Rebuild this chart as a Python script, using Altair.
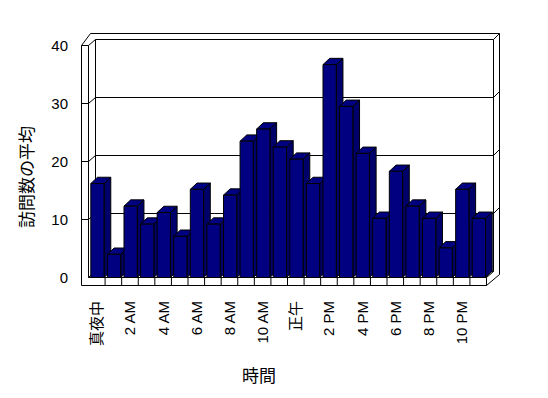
import json
import altair as alt
import pandas as pd

# ---------------- data ----------------
hours = list(range(24))
visits = [16.2, 4.0, 12.3, 9.2, 11.2, 7.1, 15.2, 9.2, 14.2, 23.5, 25.6, 22.5,
          20.4, 16.2, 36.7, 29.5, 21.4, 10.2, 18.3, 12.3, 10.2, 5.1, 15.2, 10.2]
tick_labels = ["真夜中", "2 AM", "4 AM", "6 AM", "8 AM", "10 AM",
               "正午", "2 PM", "4 PM", "6 PM", "8 PM", "10 PM"]
y_ticks = [0, 10, 20, 30, 40]
grid_values = [10, 20, 30]
x_title = "時間"
y_title = "訪問数の平均"

# ---------------- geometry (style) ----------------
W, H = 398, 232
XMAX, YMAX = 24, 40


def dx(px):
    return px * XMAX / W


def dy(px):
    return px * YMAX / H


TW = dx(7)              # wall thickness
FT = dy(8)              # floor thickness
BX, BY = dx(7), dy(6)   # box depth
OX, OY = dx(13), dy(12)  # outer back edge
BDX, BDY = dx(6.7), dy(6.3)  # bar depth
L_OFF, R_OFF = 0.14, 0.94

segs = []


def add(x1, y1, x2, y2):
    segs.append(dict(x=x1, y=y1, x2=x2, y2=y2))


# left wall
add(-TW, YMAX, -TW, -FT)
add(0, YMAX, 0, 0)
add(-TW, YMAX, 0, YMAX)
add(-TW, YMAX, dx(2), YMAX + OY)
add(dx(2), YMAX + OY, XMAX + OX, YMAX + OY)
add(0, YMAX, BX, YMAX + BY)
# back wall
add(BX, YMAX + BY, XMAX + BX, YMAX + BY)
add(BX, BY, XMAX + BX, BY)
add(BX, BY, BX, YMAX + BY)
add(XMAX + BX, BY, XMAX + BX, YMAX + BY)
add(XMAX + BX, YMAX + BY, XMAX + OX, YMAX + OY)
add(XMAX + OX, YMAX + OY, XMAX + OX, dy(3))
add(XMAX + OX, dy(3), XMAX, -FT)
# floor
add(0, 0, XMAX, 0)
add(-TW, -FT, XMAX, -FT)
add(XMAX, 0, XMAX, -FT)
add(XMAX, 0, XMAX + BX, BY)
add(0, 0, BX, BY)
for h in hours[1:]:
    add(h, 0, h, -FT)
for v in grid_values:
    add(-TW, v, 0, v)
    add(0, v, BX, v + BY)
    add(BX, v + BY, XMAX + BX, v + BY)
    add(XMAX + BX, v + BY, XMAX + OX, v + OY)

seg_df = pd.DataFrame(segs)

front_df = pd.DataFrame({
    "l": [h + L_OFF for h in hours],
    "r": [h + R_OFF for h in hours],
    "v": visits,
    "zero": [0] * len(hours),
})

side_rows, top_rows = [], []
for h, v in zip(hours, visits):
    r = h + R_OFF
    l = h + L_OFF
    side_rows.append(dict(bar=h, x=r, lo=0, hi=v))
    side_rows.append(dict(bar=h, x=r + BDX, lo=BDY, hi=v + BDY))
    top_rows.append(dict(bar=h, y=v, lo=l, hi=r))
    top_rows.append(dict(bar=h, y=v + BDY, lo=l + BDX, hi=r + BDX))
side_df = pd.DataFrame(side_rows)
top_df = pd.DataFrame(top_rows)

xs = alt.Scale(domain=[0, XMAX], nice=False, zero=False)
ys = alt.Scale(domain=[0, YMAX], nice=False, zero=False)

LATIN = "'Liberation Sans', 'Noto Sans CJK JP', sans-serif"
CJK = "'Noto Sans CJK JP', sans-serif"

label_expr = json.dumps(tick_labels, ensure_ascii=False) + "[floor(datum.value / 2)]"

x_axis = alt.Axis(
    values=[2 * k + 0.5 for k in range(len(tick_labels))],
    labelExpr=label_expr, labelAngle=270, labelPadding=23,
    labelFont=LATIN, labelFontSize=15, labelColor="black",
    labelOverlap=False, labelFlush=False,
    domain=False, ticks=False, grid=False,
    title=x_title, titleFont=CJK, titleFontSize=17, titleFontWeight="normal",
    titleColor="black", titleX=170, titleY=99, titleAlign="center",
    titleBaseline="middle",
)
y_axis = alt.Axis(
    values=y_ticks, labelPadding=21,
    labelFont=LATIN, labelFontSize=15, labelColor="black",
    labelOverlap=False, labelFlush=False,
    domain=False, ticks=False, grid=False,
    title=y_title, titleFont=CJK, titleFontSize=17, titleFontWeight="normal",
    titleColor="black", titleX=-61, titleY=131, titleAngle=270,
    titleAlign="center", titleBaseline="middle",
)

walls = alt.Chart(seg_df).mark_rule(color="black", strokeWidth=1).encode(
    x=alt.X("x:Q", scale=xs, axis=x_axis), x2="x2:Q",
    y=alt.Y("y:Q", scale=ys, axis=y_axis), y2="y2:Q",
)

sides = alt.Chart(side_df).mark_area(
    orient="vertical", fill="#00006a", stroke="black", strokeWidth=1
).encode(
    x=alt.X("x:Q", scale=xs, axis=x_axis),
    y=alt.Y("lo:Q", scale=ys, axis=y_axis), y2="hi:Q",
    detail="bar:N",
)

tops = alt.Chart(top_df).mark_area(
    orient="horizontal", fill="#000080", stroke="black", strokeWidth=1
).encode(
    y=alt.Y("y:Q", scale=ys, axis=y_axis),
    x=alt.X("lo:Q", scale=xs, axis=x_axis), x2="hi:Q",
    detail="bar:N",
)

fronts = alt.Chart(front_df).mark_rect(
    fill="#000080", stroke="black", strokeWidth=1
).encode(
    x=alt.X("l:Q", scale=xs, axis=x_axis), x2="r:Q",
    y=alt.Y("v:Q", scale=ys, axis=y_axis), y2="zero:Q",
)

chart = alt.layer(walls, sides, tops, fronts).properties(
    width=W, height=H,
    autosize=alt.AutoSizeParams(type="none"),
    padding={"left": 80.5, "top": 37.5, "right": 50, "bottom": 130},
    background="white",
).configure_view(stroke="transparent")

chart.save("out.html", embed_options={"renderer": "svg", "actions": False})
